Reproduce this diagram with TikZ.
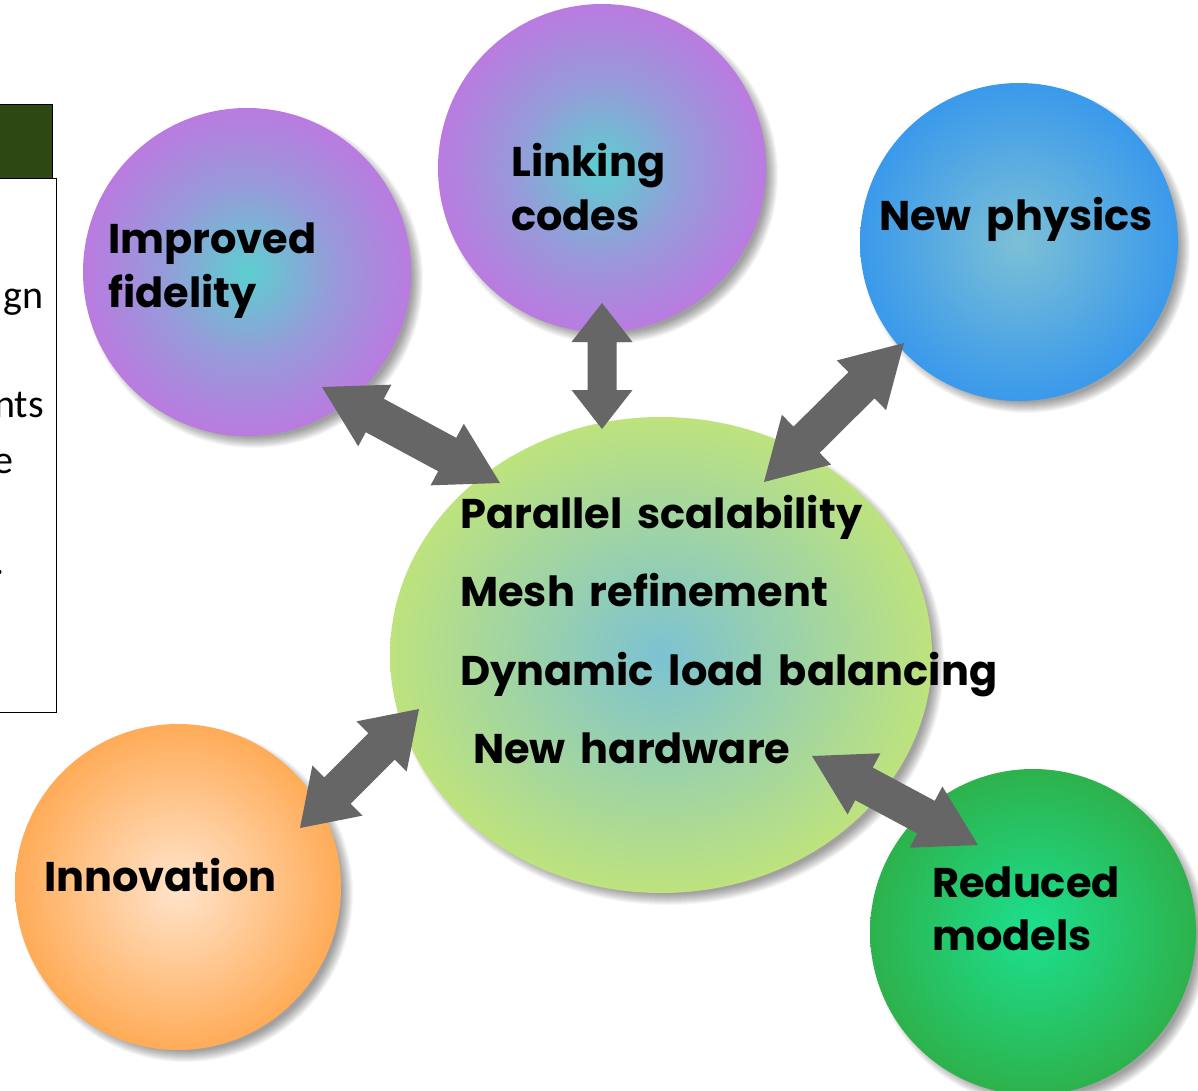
\documentclass[tikz,border=0pt]{standalone}
\usepackage{fontspec}
\setmainfont{Poppins}
\newfontfamily\boxfont{Carlito}
\usetikzlibrary{calc,shapes.geometric}

\definecolor{purpleedge}{HTML}{C670E2}
\definecolor{tealcore}{HTML}{5CCFCF}
\definecolor{blueedge}{HTML}{2A90F0}
\definecolor{bluecore}{HTML}{7CC0D6}
\definecolor{limeedge}{HTML}{C8E870}
\definecolor{limecore}{HTML}{7CC2D2}
\definecolor{orangeedge}{HTML}{FFA040}
\definecolor{orangecore}{HTML}{FFE4CC}
\definecolor{greenedge}{HTML}{32A53A}
\definecolor{greencore}{HTML}{1CE08E}
\definecolor{arrowgray}{HTML}{666666}
\definecolor{headergreen}{HTML}{2E4813}

\pgfdeclareradialshading{purpleball}{\pgfpoint{0bp}{0bp}}{color(0bp)=(tealcore); color(13bp)=(tealcore!45!purpleedge); color(29bp)=(purpleedge); color(100bp)=(purpleedge)}
\pgfdeclareradialshading{blueball}{\pgfpoint{0bp}{0bp}}{color(0bp)=(bluecore); color(31bp)=(blueedge); color(100bp)=(blueedge)}
\pgfdeclareradialshading{limeball}{\pgfpoint{0bp}{0bp}}{color(0bp)=(limecore); color(29bp)=(limeedge); color(100bp)=(limeedge)}
\pgfdeclareradialshading{orangeball}{\pgfpoint{0bp}{0bp}}{color(0bp)=(orangecore); color(30bp)=(orangeedge); color(100bp)=(orangeedge)}
\pgfdeclareradialshading{greenball}{\pgfpoint{0bp}{0bp}}{color(0bp)=(greencore); color(32bp)=(greenedge); color(100bp)=(greenedge)}

% double-headed block arrow: tip A, tip B, shaft half-width, head half-width, head length
\newcommand{\blockarrow}[5]{%
  \fill[arrowgray] (#1)
    -- ($(#1)!#5!(#2)!#4!90:(#2)$)
    -- ($(#1)!#5!(#2)!#3!90:(#2)$)
    -- ($(#2)!#5!(#1)!#3!-90:(#1)$)
    -- ($(#2)!#5!(#1)!#4!-90:(#1)$)
    -- (#2)
    -- ($(#2)!#5!(#1)!#4!90:(#1)$)
    -- ($(#2)!#5!(#1)!#3!90:(#1)$)
    -- ($(#1)!#5!(#2)!#3!-90:(#2)$)
    -- ($(#1)!#5!(#2)!#4!-90:(#2)$)
    -- cycle;}

% soft drop shadow under a disc: centre, radius (pt)
\newcommand{\softshadow}[2]{%
  \foreach \k in {0,...,11}
    \fill[black,opacity=0.035] ($(#1)+(7,7)$) circle ({#2-6+\k*1pt});}

% label typeface with slightly wider word spaces
\newcommand{\labelfont}{\fontsize{41.5}{48}\selectfont\bfseries\spaceskip=0.36em plus 0.1em\relax}

\tikzset{
  ball/.style={circle, inner sep=0pt, draw=none, shading angle=0},
  label/.style={anchor=base west, inner sep=0pt, font=\labelfont},
  boxtext/.style={anchor=base east, inner sep=0pt, font=\boxfont\fontsize{40}{48}\selectfont}
}

\begin{document}
\begin{tikzpicture}[x=1pt,y=-1pt]
\useasboundingbox (0,0) rectangle (1198,1091);
\fill[white] (0,0) rectangle (1198,1091);

% side panel, partly outside the frame
\node[draw=black, fill=headergreen, line width=1pt, minimum width=60pt, minimum height=74pt, inner sep=0pt, anchor=north east] (panelhead) at (53,104) {};
\node[draw=black, fill=white, line width=1pt, minimum width=66pt, minimum height=534pt, inner sep=0pt, anchor=north east] (panelbody) at (57,178) {};
\node[boxtext] (p1) at (44,308) {gn};
\node[boxtext] (p2) at (44,417) {nts};
\node[boxtext] (p3) at (14,473) {e};
\node[boxtext] (p4) at (5,574) {.};

% centres
\coordinate (cfid) at (247,272);
\coordinate (clink) at (602,168);
\coordinate (cphys) at (1019,242);
\coordinate (ccore) at (661,655);
\coordinate (cinno) at (178,887);
\coordinate (cred) at (1033,932);

% shadows
\softshadow{cfid}{164pt}
\softshadow{clink}{164pt}
\softshadow{cphys}{159pt}
\softshadow{cinno}{163pt}
\softshadow{cred}{163pt}
\foreach \k in {0,...,11}
  \fill[black,opacity=0.035] ($(ccore)+(7,7)$) ellipse [x radius={265pt+\k*1pt}, y radius={232pt+\k*1pt}];

% discs
\node[ball, minimum size=328pt, shading=purpleball] (fid) at (cfid) {};
\node[ball, minimum size=328pt, shading=purpleball] (link) at (clink) {};
\node[ball, minimum size=318pt, shading=blueball] (phys) at (cphys) {};
\node[ellipse, inner sep=0pt, minimum width=542pt, minimum height=476pt, shading=limeball, shading angle=0] (core) at (ccore) {};
\node[ball, minimum size=326pt, shading=orangeball] (inno) at (cinno) {};
\node[ball, minimum size=326pt, shading=greenball] (red) at (cred) {};

% labels
\node[label] (fid1) at (108,253) {Improved};
\node[label] (fid2) at (108,307) {fidelity};
\node[label] (link1) at (511,177) {Linking};
\node[label] (link2) at (511,230) {codes};
\node[label] (phys1) at (879,230) {New physics};
\node[label] (core1) at (460,528) {Parallel scalability};
\node[label] (core2) at (460,606) {Mesh refinement};
\node[label] (core3) at (460,685) {Dynamic load balancing};
\node[label] (core4) at (473,763) {New hardware};
\node[label] (inno1) at (44,891) {Innovation};
\node[label] (red1) at (932,897) {Reduced};
\node[label] (red2) at (932,950) {models};

% arrow ends
\coordinate (fid-port) at (322,387);
\coordinate (core-nw) at (500,483);
\coordinate (link-port) at (602,303);
\coordinate (core-n) at (602,429);
\coordinate (phys-port) at (904,343);
\coordinate (core-ne) at (764,482);
\coordinate (core-sw) at (419,709);
\coordinate (inno-port) at (300,828);
\coordinate (core-se) at (812,756);
\coordinate (red-port) at (978,845);

\blockarrow{fid-port}{core-nw}{19pt}{35pt}{60pt}
\blockarrow{link-port}{core-n}{14.5pt}{30.5pt}{39pt}
\blockarrow{phys-port}{core-ne}{18.5pt}{35pt}{60pt}
\blockarrow{core-sw}{inno-port}{18.7pt}{35.5pt}{53pt}
\blockarrow{core-se}{red-port}{18.5pt}{34.7pt}{59pt}
\end{tikzpicture}
\end{document}
